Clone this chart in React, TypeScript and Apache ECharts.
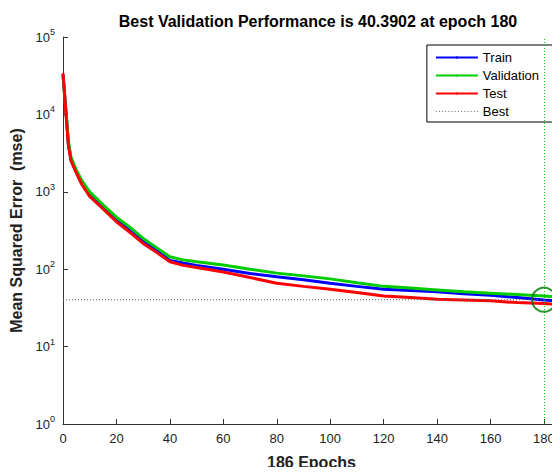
import React, { useEffect, useRef } from "react";
import * as echarts from "echarts";

const epochs = [0, 1, 2, 3, 5, 7, 10, 15, 20, 25, 30, 35, 40, 45, 50, 60, 70, 80, 90, 100, 110, 120, 130, 140, 150, 160, 170, 180, 186];
const train = [33000, 12000, 4200, 2600, 1800, 1300, 900, 620, 430, 320, 230, 175, 130, 120, 112, 100, 88, 80, 73, 66, 60, 55, 53, 51, 48, 46, 43, 40, 39];
const validation = [32000, 12500, 4500, 2800, 1900, 1400, 1000, 680, 470, 350, 250, 190, 145, 132, 125, 113, 100, 89, 82, 75, 67, 60, 57, 54, 51, 49, 47, 45, 44];
const test = [34000, 11500, 4000, 2500, 1750, 1250, 870, 600, 410, 300, 215, 165, 125, 112, 105, 92, 78, 66, 60, 55, 50, 45, 43, 41, 40, 39, 37, 36, 35];
const bestEpoch = 180;
const bestValue = 40.3902;

export default function App() {
  const ref = useRef<HTMLDivElement>(null);
  useEffect(() => {
    const chart = echarts.init(ref.current!, null, { renderer: "svg" });
    const pair = (arr: number[]) => epochs.map((e, i) => [e, arr[i]]);
    chart.setOption({
      animation: false,
      textStyle: { fontFamily: "Arial, Liberation Sans, sans-serif" },
      title: {
        text: `Best Validation Performance is ${bestValue} at epoch ${bestEpoch}`,
        left: 313, textAlign: "center", top: 8,
        textStyle: { fontSize: 16, fontWeight: "bold", color: "#000" },
      },
      grid: { left: 63, right: 0, top: 37, bottom: 51 },
      legend: {
        orient: "vertical", right: 7, top: 45,
        backgroundColor: "#fff", borderColor: "#000", borderWidth: 1, padding: [6, 14, 4, 8],
        itemWidth: 42, itemHeight: 3, itemGap: 5,
        textStyle: { fontSize: 13, color: "#000" },
        data: ["Train", "Validation", "Test", { name: "Best", icon: "path://M0,0h1v1h-1zM3,0h1v1h-1zM6,0h1v1h-1zM9,0h1v1h-1zM12,0h1v1h-1zM15,0h1v1h-1zM18,0h1v1h-1zM21,0h1v1h-1zM24,0h1v1h-1zM27,0h1v1h-1zM30,0h1v1h-1zM33,0h1v1h-1zM36,0h1v1h-1zM39,0h1v1h-1z", itemStyle: { color: "#777" } }],
      },
      xAxis: {
        type: "value", min: 0, max: 186, interval: 20,
        name: "186 Epochs", nameLocation: "middle", nameGap: 30,
        nameTextStyle: { fontSize: 16, fontWeight: "bold", color: "#222" },
        axisLine: { lineStyle: { color: "#333" } },
        axisTick: { inside: true, length: 5 },
        axisLabel: { fontSize: 13, color: "#222", showMaxLabel: false },
        splitLine: { show: false },
      },
      yAxis: {
        type: "log", min: 1, max: 100000, logBase: 10,
        name: "Mean Squared Error  (mse)", nameLocation: "middle", nameGap: 38,
        nameTextStyle: { fontSize: 16, fontWeight: "bold", color: "#222" },
        axisLine: { show: true, lineStyle: { color: "#333" } },
        axisTick: { inside: true, length: 5 },
        splitLine: { show: false },
        axisLabel: {
          color: "#222",
          formatter: (v: number) => `{b|10}{s|${Math.round(Math.log10(v))}}`,
          rich: { b: { fontSize: 13, color: "#222" }, s: { fontSize: 9, verticalAlign: "bottom", padding: [0, 0, 10, 0], color: "#222" } },
        },
      },
      series: [
        { name: "Train", type: "line", data: pair(train), symbol: "none", lineStyle: { color: "#0000ff", width: 3 }, itemStyle: { color: "#0000ff" } },
        { name: "Validation", type: "line", data: pair(validation), symbol: "none", lineStyle: { color: "#00cc00", width: 3 }, itemStyle: { color: "#00cc00" } },
        { name: "Test", type: "line", data: pair(test), symbol: "none", lineStyle: { color: "#ff0000", width: 3 }, itemStyle: { color: "#ff0000" } },
        {
          name: "Best", type: "line", data: [[0, bestValue], [bestEpoch, bestValue]], symbol: "none",
          lineStyle: { color: "#666", width: 1, type: [1, 2] }, itemStyle: { color: "#777" },
          markLine: {
            silent: true, symbol: "none", label: { show: false },
            lineStyle: { color: "#00cc00", width: 1, type: [1, 2] },
            data: [{ xAxis: bestEpoch }],
          },
        },
        {
          type: "scatter", data: [[bestEpoch, bestValue]], symbol: "circle", symbolSize: 24,
          itemStyle: { color: "rgba(0,0,0,0)", borderColor: "#007700", borderWidth: 2 }, z: 5,
        },
      ],
    });
    return () => chart.dispose();
  }, []);
  return <div ref={ref} style={{ width: 560, height: 475, margin: -8 }} />;
}
